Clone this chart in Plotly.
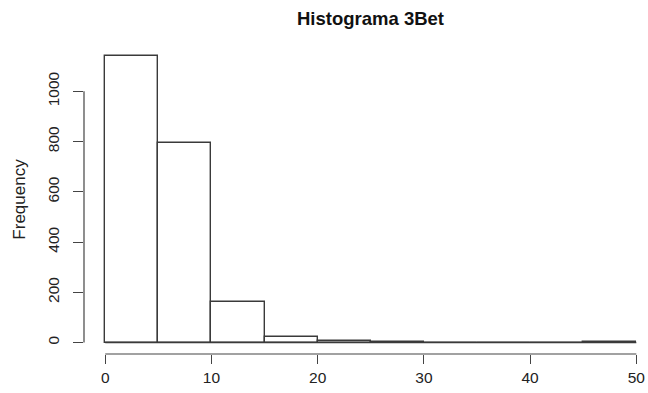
import plotly.graph_objects as go

bin_edges = [0, 5, 10, 15, 20, 25, 30, 35, 40, 45, 50]
counts = [1139, 794, 163, 24, 8, 3, 0, 0, 0, 3]
x_ticks = [0, 10, 20, 30, 40, 50]
y_ticks = [0, 200, 400, 600, 800, 1000]

centers = [(a + b) / 2 for a, b in zip(bin_edges[:-1], bin_edges[1:])]
widths = [b - a for a, b in zip(bin_edges[:-1], bin_edges[1:])]

font = "Liberation Sans, Arial, sans-serif"
axcol = "#444444"

fig = go.Figure()
fig.add_trace(go.Bar(
    x=centers, y=counts, width=widths,
    marker=dict(color="white", line=dict(color="#3a3a3a", width=1.4)),
    hoverinfo="x+y",
))

ymax = max(counts)
fig.update_layout(
    width=648, height=393,
    margin=dict(l=84, r=0, t=44.5, b=38.5),
    paper_bgcolor="white", plot_bgcolor="white",
    showlegend=False,
    bargap=0,
    title=dict(text="<b>Histograma 3Bet</b>", x=(84 + 657) / 2 / 648, xanchor="center",
               y=1 - 19 / 393, yanchor="middle",
               font=dict(family=font, size=18.5, color="#111111")),
    xaxis=dict(range=[bin_edges[0] - 0.04 * (bin_edges[-1] - bin_edges[0]), 51.1],
               tickvals=x_ticks, ticktext=[str(v) for v in x_ticks],
               ticks="outside", ticklen=9, tickcolor=axcol, tickwidth=1,
               showline=False, showgrid=False, zeroline=False, automargin=False,
               tickfont=dict(family=font, size=15.5, color="#222222")),
    yaxis=dict(range=[-0.04 * ymax, 1.04 * ymax],
               tickvals=y_ticks, ticktext=[str(v) for v in y_ticks],
               ticks="outside", ticklen=10, tickcolor=axcol, tickwidth=1,
               tickangle=-90, ticklabelstandoff=8,
               showline=False, showgrid=False, zeroline=False, automargin=False,
               tickfont=dict(family=font, size=15.5, color="#222222"),
               title=dict(text="Frequency", standoff=14,
                          font=dict(family=font, size=17, color="#222222"))),
)

# R-style axis lines spanning only the tick range
fig.add_shape(type="line", xref="x", yref="paper", x0=x_ticks[0], x1=x_ticks[-1], y0=0, y1=0,
              line=dict(color=axcol, width=1.2))
fig.add_shape(type="line", xref="paper", yref="y", x0=0, x1=0, y0=y_ticks[0], y1=y_ticks[-1],
              line=dict(color=axcol, width=1.2))
# baseline of empty bins (R draws zero-height rectangles)
fig.add_shape(type="line", xref="x", yref="y", x0=bin_edges[0], x1=bin_edges[-1], y0=0, y1=0,
              line=dict(color="#3a3a3a", width=1.4))

fig.write_html("out.html", config={"displayModeBar": False},
               post_script="document.body.style.margin='0';")
